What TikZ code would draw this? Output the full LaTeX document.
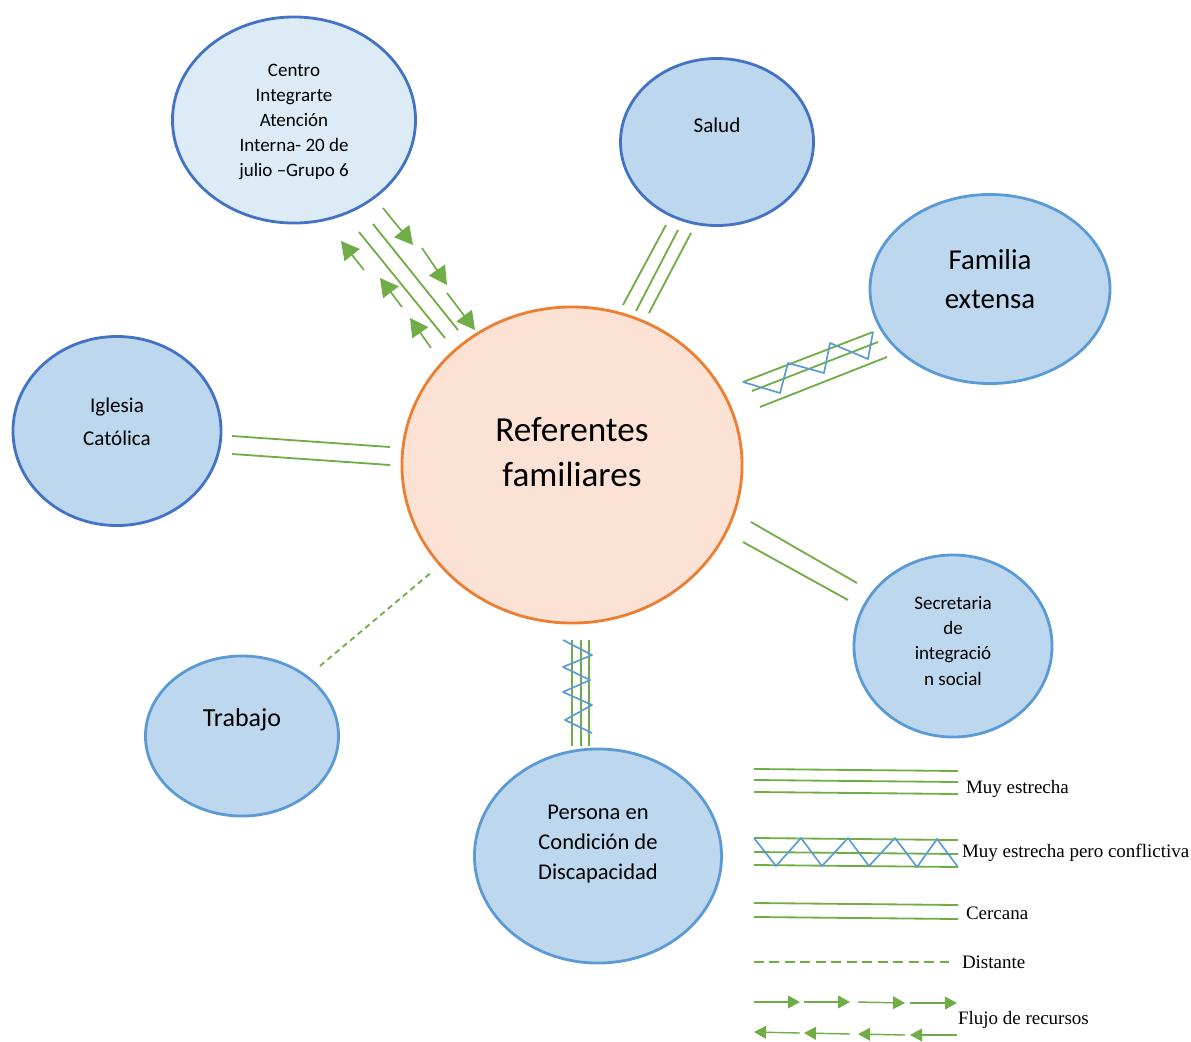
\documentclass[tikz,border=0pt]{standalone}
\usepackage{fontspec}
\setmainfont{Liberation Serif}
\newfontfamily\calibri{Carlito}
\usetikzlibrary{shapes.geometric,arrows.meta}

\definecolor{verde}{HTML}{70AD47}
\definecolor{azulborde}{HTML}{4472C4}
\definecolor{azulclaro}{HTML}{5B9BD5}
\definecolor{relleno}{HTML}{BDD7EE}
\definecolor{rellenoclaro}{HTML}{DDEBF7}
\definecolor{naranja}{HTML}{ED7D31}
\definecolor{durazno}{HTML}{FBE2D5}

\begin{document}
\begin{tikzpicture}[x=0.025cm, y=-0.025cm, outer sep = 0pt]

\tikzstyle{circulo}=[ellipse, draw=azulborde, fill=relleno, line width=2pt, inner sep=0pt]
\tikzstyle{rotulo}=[align=center, inner sep=0pt]
\tikzstyle{vinculo}=[verde, line width=1.3pt]
\tikzstyle{conflicto}=[azulclaro, line width=1.2pt, line join=round]
\tikzstyle{flujo}=[verde, line width=1.2pt, -{Triangle[length=0.45cm,width=0.48cm]}]
\tikzstyle{flujoley}=[verde, line width=1pt, -{Triangle[length=0.3cm,width=0.32cm]}]
\tikzstyle{leyenda}=[anchor=west, inner sep=0pt, font=\fontsize{13.5}{16}\selectfont]

\useasboundingbox (0,0) rectangle (1191,1041);

% sistemas
\node[circulo, draw=naranja, fill=durazno, minimum width=8.5cm, minimum height=7.9cm] (ref) at (572,465) {};
\node[circulo, fill=rellenoclaro, minimum width=6.075cm, minimum height=5.15cm] (centro) at (294,120) {};
\node[circulo, minimum width=4.825cm, minimum height=4.175cm] (salud) at (717,142) {};
\node[circulo, draw=azulclaro, minimum width=6cm, minimum height=4.725cm] (familia) at (990,289) {};
\node[circulo, minimum width=5.2cm, minimum height=4.725cm] (iglesia) at (117,431) {};
\node[circulo, draw=azulclaro, minimum width=4.825cm, minimum height=4cm] (trabajo) at (242,736) {};
\node[circulo, draw=azulclaro, minimum width=6.175cm, minimum height=5.35cm] (persona) at (598,856) {};
\node[circulo, draw=azulclaro, minimum width=4.95cm, minimum height=4.55cm] (secretaria) at (953,646) {};

% textos
\node[rotulo, font=\calibri\fontsize{25}{32}\selectfont] (t-ref) at (572,452) {Referentes\\familiares};
\node[rotulo, font=\calibri\fontsize{13.5}{17.8}\selectfont] (t-centro) at (294,122) {Centro\\Integrarte\\Atención\\Interna- 20 de\\julio –Grupo 6};
\node[rotulo, font=\calibri\fontsize{15}{18}\selectfont] (t-salud) at (717,125) {Salud};
\node[rotulo, font=\calibri\fontsize{20.5}{27.7}\selectfont] (t-familia) at (990,279) {Familia\\extensa};
\node[rotulo, font=\calibri\fontsize{15}{23.5}\selectfont] (t-iglesia) at (117,422) {Iglesia\\Católica};
\node[rotulo, font=\calibri\fontsize{18.5}{22}\selectfont] (t-trabajo) at (242,720) {Trabajo};
\node[rotulo, font=\calibri\fontsize{16}{21.3}\selectfont] (t-persona) at (598,844) {Persona en\\Condición de\\Discapacidad};
\node[rotulo, font=\calibri\fontsize{13.5}{17.8}\selectfont] (t-secretaria) at (953,641) {Secretaria\\de\\integració\\n social};

% extremos de los vinculos
\coordinate (ce1) at (359,232); \coordinate (ce2) at (445,338); \coordinate (ce3) at (373,224); \coordinate (ce4) at (458,330);
\coordinate (sa1) at (666,225); \coordinate (sa2) at (623,305); \coordinate (sa3) at (678,230); \coordinate (sa4) at (636,311);
\coordinate (sa5) at (691,233); \coordinate (sa6) at (649,313);
\coordinate (fa1) at (743,382); \coordinate (fa2) at (873,332); \coordinate (fa3) at (752,391); \coordinate (fa4) at (878,342);
\coordinate (fa5) at (760,407); \coordinate (fa6) at (887,357);
\coordinate (ig1) at (232,436); \coordinate (ig2) at (390,447); \coordinate (ig3) at (232,454); \coordinate (ig4) at (390,465);
\coordinate (tr1) at (320,666); \coordinate (tr2) at (433,571);
\coordinate (se1) at (751,522); \coordinate (se2) at (857,583); \coordinate (se3) at (743,542); \coordinate (se4) at (848,600);
\coordinate (pe1) at (572,640); \coordinate (pe2) at (572,746); \coordinate (pe3) at (581,640); \coordinate (pe4) at (581,746);
\coordinate (pe5) at (589,640); \coordinate (pe6) at (589,746);

% vinculos
\draw[vinculo] (ce1) -- (ce2); \draw[vinculo] (ce3) -- (ce4);
\draw[flujo] (383,208) -- (413,245); \draw[flujo] (422,248) -- (447,285); \draw[flujo] (447,293) -- (475,330);
\draw[flujo] (364,270) -- (341,241); \draw[flujo] (402,307) -- (380,278); \draw[flujo] (431,348) -- (410,318);
\draw[vinculo] (sa1) -- (sa2); \draw[vinculo] (sa3) -- (sa4); \draw[vinculo] (sa5) -- (sa6);
\draw[vinculo] (fa1) -- (fa2); \draw[vinculo] (fa3) -- (fa4); \draw[vinculo] (fa5) -- (fa6);
\draw[conflicto] (743,382) -- (780,393) -- (788,363) -- (824,373) -- (830,343) -- (868,359) -- (873,332);
\draw[vinculo] (ig1) -- (ig2); \draw[vinculo] (ig3) -- (ig4);
\draw[vinculo, dash pattern=on 4pt off 3pt] (tr1) -- (tr2);
\draw[vinculo] (se1) -- (se2); \draw[vinculo] (se3) -- (se4);
\draw[vinculo] (pe1) -- (pe2); \draw[vinculo] (pe3) -- (pe4); \draw[vinculo] (pe5) -- (pe6);
\draw[conflicto] (563,640) -- (592,655) -- (563,667) -- (590,680) -- (563,692) -- (592,705) -- (565,720) -- (592,733);

% leyenda
\draw[vinculo] (754,769) -- (958,771); \draw[vinculo] (754,780) -- (958,782); \draw[vinculo] (754,792) -- (958,794);
\node[leyenda] (l-muy) at (966,789) {Muy estrecha};
\draw[vinculo] (754,838) -- (958,840); \draw[vinculo] (754,852) -- (958,854); \draw[vinculo] (754,865) -- (958,867);
\draw[conflicto] (754,838) -- (776,866) -- (801,838) -- (822,866) -- (848,838) -- (869,866) -- (895,838) -- (917,867) -- (937,839) -- (958,867);
\node[leyenda] (l-conf) at (962,853) {Muy estrecha pero conflictiva};
\draw[vinculo] (754,903) -- (958,905); \draw[vinculo] (754,917) -- (958,919);
\node[leyenda] (l-cerc) at (966,913) {Cercana};
\draw[vinculo, dash pattern=on 7pt off 4pt] (754,962) -- (955,962);
\node[leyenda] (l-dist) at (962,962) {Distante};
\draw[flujoley] (754,1002) -- (800,1002); \draw[flujoley] (804,1002) -- (850,1002);
\draw[flujoley] (858,1002) -- (905,1003); \draw[flujoley] (910,1003) -- (957,1003);
\draw[flujoley] (800,1033) -- (754,1032); \draw[flujoley] (850,1034) -- (804,1033);
\draw[flujoley] (905,1035) -- (858,1034); \draw[flujoley] (957,1035) -- (910,1035);
\node[leyenda] (l-flujo) at (958,1020) {Flujo de recursos};

\end{tikzpicture}
\end{document}
